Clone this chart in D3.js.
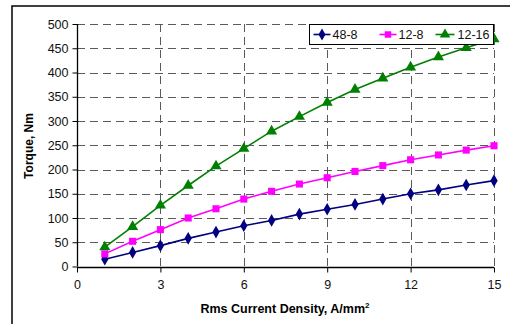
<!DOCTYPE html>
<html>
<head>
<meta charset="utf-8">
<script src="https://cdn.jsdelivr.net/npm/d3@7"></script>
<style>
  html, body { margin: 0; padding: 0; background: #fff; }
  svg { display: block; font-family: "Liberation Sans", Arial, sans-serif; }
</style>
</head>
<body>
<svg id="chart" width="510" height="324"></svg>
<script>
// Current density steps (A/mm²)
const density = [1, 2, 3, 4, 5, 6, 7, 8, 9, 10, 11, 12, 13, 14, 15];

// Torque (Nm) for each winding configuration
const torque48_8  = [15, 29, 43, 58, 71, 84, 95, 108, 118, 128, 139, 150, 158, 168, 177];
const torque12_8  = [26, 52, 76, 100, 119, 139, 155, 170, 183, 196, 208, 220, 230, 240, 249];
const torque12_16 = [40, 82, 126, 167, 207, 243, 279, 309, 338, 365, 388, 411, 432, 451, 469];

const seriesNames  = ["48-8", "12-8", "12-16"];
const seriesColors = ["#000080", "#FF00FF", "#008000"];
const seriesShapes = [d3.symbolDiamond, d3.symbolSquare, d3.symbolTriangle];
const seriesValues = [torque48_8, torque12_8, torque12_16];

const xTicks = [0, 3, 6, 9, 12, 15];
const yTicks = [0, 50, 100, 150, 200, 250, 300, 350, 400, 450, 500];

const svg = d3.select("#chart");

// outer frame
svg.append("rect")
  .attr("x", 12).attr("y", 6)
  .attr("width", 520).attr("height", 340)
  .attr("fill", "none").attr("stroke", "#000").attr("stroke-width", 1.5);

const x = d3.scaleLinear().domain([0, 15]).range([77, 494]);
const y = d3.scaleLinear().domain([0, 500]).range([266.5, 24]);

// dashed grid
const grid = svg.append("g").attr("stroke", "#5a5a5a").attr("stroke-width", 1)
  .attr("stroke-dasharray", "8,5").attr("fill", "none");
grid.selectAll("line.h").data(yTicks.filter(v => v > 0)).join("line")
  .attr("class", "h")
  .attr("x1", x(0)).attr("x2", x(15))
  .attr("y1", d => Math.round(y(d)) + 0.5).attr("y2", d => Math.round(y(d)) + 0.5);
grid.selectAll("line.v").data(xTicks.filter(v => v > 0)).join("line")
  .attr("class", "v")
  .attr("y1", y(500)).attr("y2", y(0))
  .attr("x1", d => Math.round(x(d)) + 0.5).attr("x2", d => Math.round(x(d)) + 0.5);

// axes
const yAxis = svg.append("g")
  .attr("transform", `translate(${Math.round(x(0)) + 0.5},0)`)
  .call(d3.axisLeft(y).tickValues(yTicks).tickSize(5).tickPadding(4));
const xAxis = svg.append("g")
  .attr("transform", `translate(0,${Math.round(y(0)) + 0.5})`)
  .call(d3.axisBottom(x).tickValues(xTicks).tickSize(5).tickPadding(8));
[yAxis, xAxis].forEach(g => {
  g.select(".domain").attr("stroke", "#000").attr("stroke-width", 1.3);
  g.selectAll(".tick line").attr("stroke", "#000");
  g.selectAll(".tick text").attr("fill", "#111")
    .style("font-size", "12.5px").style("font-family", "'Liberation Sans', Arial, sans-serif");
});
yAxis.select(".domain").attr("d", `M0,${y(0)}V${y(500)}`);
xAxis.select(".domain").attr("d", `M${x(0)},0H${x(15)}`);

// series
const line = d3.line().x((d, i) => x(density[i])).y(d => y(d));
seriesValues.forEach((vals, s) => {
  const g = svg.append("g");
  g.append("path").datum(vals)
    .attr("d", line)
    .attr("fill", "none").attr("stroke", seriesColors[s]).attr("stroke-width", 1.6);
  const size = s === 2 ? 54 : (s === 1 ? 50 : 46);
  g.selectAll("path.m").data(vals).join("path")
    .attr("class", "m")
    .attr("d", d3.symbol().type(seriesShapes[s]).size(size))
    .attr("transform", (d, i) => `translate(${x(density[i])},${y(d)})`)
    .attr("fill", seriesColors[s]);
});

// legend
const legend = svg.append("g").attr("transform", "translate(309.5,24.5)");
legend.append("rect").attr("width", 184).attr("height", 20)
  .attr("fill", "#fff").attr("stroke", "#000").attr("stroke-width", 1);
const legendX = [4, 70, 126];
seriesNames.forEach((name, s) => {
  const item = legend.append("g").attr("transform", `translate(${legendX[s]},10)`);
  item.append("line").attr("x1", 0).attr("x2", s === 2 ? 19 : 17)
    .attr("stroke", seriesColors[s]).attr("stroke-width", 1.6);
  item.append("path")
    .attr("d", d3.symbol().type(seriesShapes[s]).size(s === 2 ? 48 : 42))
    .attr("transform", `translate(${s === 2 ? 9.5 : 8.5},0)`)
    .attr("fill", seriesColors[s]);
  item.append("text").attr("x", s === 2 ? 22 : 19).attr("y", 4.5)
    .style("font-size", "12.5px").attr("fill", "#111").text(name);
});

// axis titles
svg.append("text")
  .attr("transform", "translate(33,146) rotate(-90)")
  .attr("text-anchor", "middle")
  .style("font-size", "12px").style("font-weight", "bold")
  .text("Torque, Nm");

const xt = svg.append("text")
  .attr("x", 285).attr("y", 313)
  .attr("text-anchor", "middle")
  .style("font-size", "12.5px").style("font-weight", "bold");
xt.append("tspan").text("Rms Current Density, A/mm");
xt.append("tspan").attr("dy", -5).style("font-size", "8px").text("2");
</script>
</body>
</html>
